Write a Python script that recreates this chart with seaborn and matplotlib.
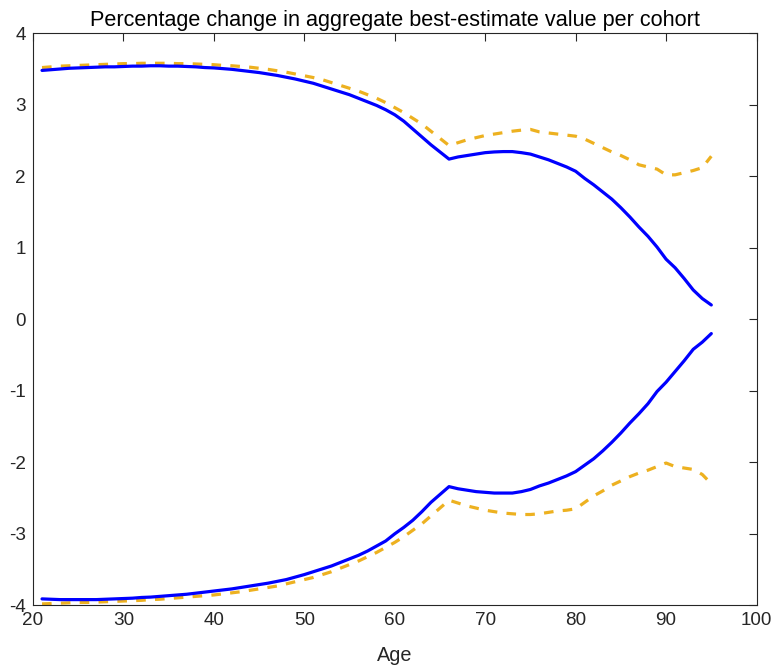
import numpy as np
import pandas as pd
import matplotlib
matplotlib.use("Agg")
import matplotlib.pyplot as plt
import seaborn as sns

ages = list(range(21, 96))

# Upper bound, best-estimate basis (solid blue)
upper_solid = [
    3.48, 3.49, 3.50, 3.51, 3.515, 3.52, 3.525, 3.53, 3.53, 3.535,
    3.54, 3.54, 3.545, 3.545, 3.54, 3.54, 3.535, 3.53, 3.52, 3.515,
    3.505, 3.495, 3.48, 3.465, 3.45, 3.43, 3.41, 3.385, 3.36, 3.33,
    3.30, 3.26, 3.22, 3.18, 3.14, 3.09, 3.04, 2.99, 2.93, 2.86,
    2.77, 2.66, 2.55, 2.44, 2.34, 2.24, 2.27, 2.29, 2.31, 2.33,
    2.34, 2.345, 2.345, 2.33, 2.31, 2.27, 2.23, 2.18, 2.13, 2.07,
    1.97, 1.88, 1.78, 1.68, 1.56, 1.43, 1.29, 1.16, 1.01, 0.84,
    0.72, 0.57, 0.41, 0.29, 0.20,
]

# Upper bound, alternative basis (dashed orange)
upper_dashed = [
    3.52, 3.53, 3.54, 3.545, 3.55, 3.555, 3.56, 3.565, 3.57, 3.575,
    3.575, 3.58, 3.58, 3.58, 3.58, 3.575, 3.575, 3.57, 3.565, 3.56,
    3.55, 3.545, 3.535, 3.525, 3.51, 3.495, 3.475, 3.455, 3.43, 3.405,
    3.38, 3.35, 3.31, 3.27, 3.23, 3.19, 3.14, 3.09, 3.03, 2.96,
    2.89, 2.81, 2.73, 2.63, 2.53, 2.43, 2.47, 2.51, 2.54, 2.57,
    2.59, 2.61, 2.63, 2.645, 2.655, 2.62, 2.605, 2.59, 2.575, 2.56,
    2.52, 2.46, 2.40, 2.34, 2.29, 2.23, 2.16, 2.13, 2.10, 2.02,
    2.02, 2.05, 2.08, 2.12, 2.28,
]

# Lower bound, best-estimate basis (solid blue)
lower_solid = [
    -3.91, -3.915, -3.92, -3.92, -3.92, -3.92, -3.92, -3.915, -3.91, -3.905,
    -3.90, -3.89, -3.885, -3.875, -3.865, -3.855, -3.845, -3.83, -3.815, -3.80,
    -3.785, -3.77, -3.75, -3.73, -3.71, -3.69, -3.665, -3.64, -3.605, -3.57,
    -3.53, -3.49, -3.45, -3.40, -3.35, -3.30, -3.24, -3.17, -3.10, -3.00,
    -2.91, -2.81, -2.69, -2.56, -2.45, -2.34, -2.37, -2.39, -2.41, -2.42,
    -2.43, -2.43, -2.43, -2.41, -2.38, -2.33, -2.29, -2.24, -2.19, -2.13,
    -2.04, -1.95, -1.84, -1.72, -1.59, -1.45, -1.32, -1.18, -1.01, -0.88,
    -0.73, -0.58, -0.42, -0.32, -0.20,
]

# Lower bound, alternative basis (dashed orange)
lower_dashed = [
    -3.98, -3.975, -3.97, -3.965, -3.96, -3.96, -3.955, -3.95, -3.945, -3.94,
    -3.935, -3.93, -3.92, -3.915, -3.905, -3.895, -3.885, -3.875, -3.865, -3.855,
    -3.84, -3.825, -3.81, -3.79, -3.77, -3.75, -3.73, -3.70, -3.67, -3.64,
    -3.61, -3.57, -3.53, -3.48, -3.43, -3.38, -3.32, -3.26, -3.19, -3.12,
    -3.04, -2.95, -2.86, -2.75, -2.64, -2.53, -2.57, -2.61, -2.64, -2.67,
    -2.69, -2.71, -2.72, -2.73, -2.73, -2.72, -2.70, -2.68, -2.67, -2.65,
    -2.56, -2.47, -2.40, -2.32, -2.26, -2.20, -2.15, -2.11, -2.06, -2.01,
    -2.06, -2.08, -2.10, -2.17, -2.30,
]

x_ticks = [20, 30, 40, 50, 60, 70, 80, 90, 100]
y_ticks = [-4, -3, -2, -1, 0, 1, 2, 3, 4]

sns.set_theme(style="white")
plt.rcParams["font.family"] = ["Liberation Sans", "DejaVu Sans"]

fig = plt.figure(figsize=(7.78, 6.66), dpi=100)
ax = fig.add_axes([0.0424, 0.0911, 0.930, 0.859])

blue = "#0000FF"
orange = "#EDB120"
lw = 2.3
dash = (3.0, 2.9)

df = pd.DataFrame({
    "Age": ages,
    "upper_solid": upper_solid,
    "upper_dashed": upper_dashed,
    "lower_solid": lower_solid,
    "lower_dashed": lower_dashed,
})

sns.lineplot(data=df, x="Age", y="upper_dashed", ax=ax, color=orange,
             linewidth=lw, linestyle=(0, dash))
sns.lineplot(data=df, x="Age", y="lower_dashed", ax=ax, color=orange,
             linewidth=lw, linestyle=(0, dash))
sns.lineplot(data=df, x="Age", y="upper_solid", ax=ax, color=blue, linewidth=lw)
sns.lineplot(data=df, x="Age", y="lower_solid", ax=ax, color=blue, linewidth=lw)

ax.set_xlim(20, 100)
ax.set_ylim(-4, 4)
ax.set_xticks(x_ticks)
ax.set_yticks(y_ticks)
ax.set_xticklabels([str(t) for t in x_ticks])
ax.set_yticklabels([str(t) for t in y_ticks])

text_color = "#262626"
for side in ["left", "right", "top", "bottom"]:
    ax.spines[side].set_visible(True)
    ax.spines[side].set_color(text_color)
    ax.spines[side].set_linewidth(0.8)

ax.tick_params(axis="both", direction="in", length=5.5, width=0.8,
               colors=text_color, labelsize=13.6, top=True, right=True,
               pad=5)
ax.set_xlabel("Age", fontsize=14.3, color=text_color, labelpad=12)
ax.set_ylabel("")
ax.set_title("Percentage change in aggregate best-estimate value per cohort",
             fontsize=15.6, color="black", pad=5)

fig.savefig("out.png", dpi=100)
